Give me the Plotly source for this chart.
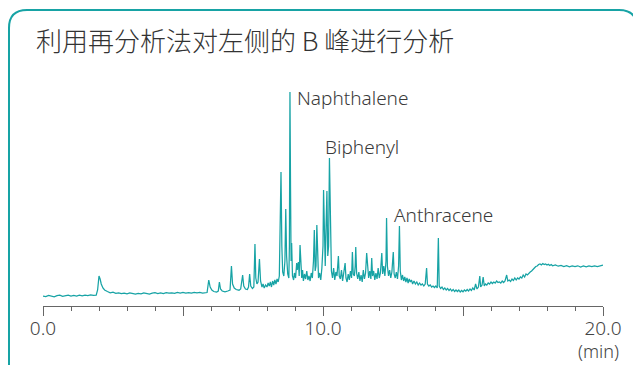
import plotly.graph_objects as go

# ---- data ----
time_min = [
    0.0, 0.1, 0.2, 0.3, 0.4, 0.5, 0.6, 0.7, 0.8, 0.9, 1.0, 1.1, 1.2, 1.3, 1.4, 1.5, 1.6, 1.7, 1.8,
    1.9, 1.95, 2.0, 2.04, 2.08, 2.14, 2.2, 2.3, 2.4, 2.5, 2.6,
    2.7, 2.8, 2.9, 3.0, 3.1, 3.2, 3.3, 3.4, 3.5, 3.6, 3.7, 3.8, 3.9, 4.0, 4.1, 4.2, 4.3, 4.4, 4.5,
    4.6, 4.7, 4.8, 4.9, 5.0, 5.1, 5.2, 5.3, 5.4, 5.5, 5.6, 5.7, 5.8,
    5.86, 5.92, 5.97, 6.03, 6.1, 6.2, 6.26, 6.3, 6.34, 6.4, 6.5, 6.6, 6.68, 6.73, 6.77, 6.83, 6.9,
    7.0, 7.06, 7.13, 7.17, 7.23, 7.3, 7.34, 7.38, 7.42, 7.48, 7.53, 7.57, 7.6, 7.64, 7.68, 7.73,
    7.77, 7.82, 7.86, 7.9, 7.95, 8.0, 8.04, 8.08, 8.12, 8.16, 8.2, 8.24, 8.28, 8.32, 8.36, 8.4,
    8.44, 8.47, 8.5, 8.53, 8.56, 8.6, 8.64, 8.67, 8.7, 8.74, 8.78, 8.8, 8.82, 8.84, 8.86, 8.88,
    8.91, 8.95, 8.98, 9.02, 9.06, 9.08, 9.12, 9.15, 9.18, 9.21, 9.24, 9.27, 9.3, 9.34, 9.38, 9.42,
    9.46, 9.5, 9.54, 9.58, 9.62, 9.66, 9.69, 9.72, 9.75, 9.78, 9.81, 9.84, 9.88, 9.92, 9.96, 10.0,
    10.02, 10.05, 10.08, 10.11, 10.14, 10.17, 10.2, 10.23, 10.26, 10.3, 10.34, 10.38, 10.42, 10.46,
    10.5, 10.55, 10.58, 10.62, 10.66, 10.7, 10.74, 10.79, 10.82, 10.86, 10.9, 10.94, 10.98, 11.02,
    11.05, 11.08, 11.12, 11.15, 11.17, 11.2, 11.24, 11.28, 11.32, 11.36, 11.4, 11.44, 11.48, 11.52,
    11.56, 11.6, 11.63, 11.67, 11.71, 11.74, 11.77, 11.81, 11.85, 11.89, 11.93, 11.97, 12.01, 12.05,
    12.1, 12.13, 12.17, 12.21, 12.25, 12.27, 12.3, 12.34, 12.38, 12.42, 12.46, 12.51, 12.54, 12.58,
    12.62, 12.66, 12.7, 12.73, 12.76, 12.8, 12.84, 12.88, 12.92, 12.96, 13.0, 13.04, 13.08, 13.12,
    13.16, 13.2, 13.25, 13.3, 13.35, 13.4, 13.45, 13.5, 13.55, 13.6, 13.65, 13.7, 13.73, 13.78,
    13.83, 13.88, 13.93, 13.98, 14.03, 14.08, 14.12, 14.15, 14.2, 14.25, 14.3, 14.35, 14.4, 14.45,
    14.5, 14.55, 14.6, 14.65, 14.7, 14.75, 14.8, 14.85, 14.9, 14.95, 15.0, 15.05, 15.1, 15.15, 15.2,
    15.25, 15.3, 15.35, 15.4, 15.45, 15.5, 15.55, 15.6, 15.63, 15.68, 15.72, 15.76, 15.8, 15.85,
    15.9, 15.95, 16.0, 16.05, 16.1, 16.15, 16.2, 16.25, 16.3, 16.35, 16.4, 16.45, 16.5, 16.56, 16.6,
    16.65, 16.7, 16.75, 16.8, 16.85, 16.9, 16.95, 17.0, 17.05, 17.1, 17.15, 17.2, 17.25, 17.3, 17.35,
    17.4, 17.45, 17.5, 17.55, 17.6, 17.65, 17.7, 17.75, 17.8, 17.85, 17.9, 17.95, 18.0, 18.05, 18.1,
    18.15, 18.2, 18.3, 18.4, 18.5, 18.6, 18.7, 18.8, 18.9, 19.0, 19.1, 19.2, 19.3, 19.4, 19.5, 19.6,
    19.7, 19.8, 19.9, 20.0,
]
signal = [
    10, 9.4, 10.6, 9.8, 9.2, 10.3, 10.8, 9.6, 10.2, 10.9, 9.9, 10.5, 10.0, 10.8, 10.2, 10.9, 10.4, 11.0, 10.6,
    10.8, 16, 30, 27, 22, 18, 16, 14.5, 13.2, 13.8, 12.6,
    13.2, 12.4, 12.9, 12.2, 13.0, 12.5, 11.9, 12.6, 12.2, 13.1, 12.4, 12.0, 12.8, 13.3, 12.5, 13.0, 12.3, 13.4, 12.8,
    13.2, 12.6, 13.5, 12.9, 13.6, 13.0, 13.4, 12.8, 13.7, 13.1, 13.6, 13.0, 13.8,
    13.5, 26, 19, 16, 14.5, 14, 15, 24, 17, 15, 14.2, 15, 16, 40, 22, 18, 16.5,
    15.8, 17, 31, 20, 17, 16.5, 19, 32, 20, 17.5, 19, 62, 28, 22, 24, 47,
    25, 19, 22, 18, 21, 19, 23, 20, 24, 19, 25, 21, 26, 22, 27, 24,
    30, 80, 134, 60, 34, 30, 45, 97, 50, 32, 28, 60, 214, 120, 45, 63,
    30, 26, 33, 28, 43, 36, 44, 30, 61, 34, 28, 36, 25, 32, 27, 35,
    26, 30, 25, 33, 28, 45, 76, 35, 40, 81, 38, 28, 33, 26, 38, 60,
    116, 70, 40, 80, 115, 50, 60, 148, 70, 35, 28, 38, 26, 34,
    30, 50, 30, 27, 36, 25, 33, 43, 28, 24, 32, 26, 35, 28,
    54, 32, 30, 40, 59, 33, 27, 34, 25, 31, 24, 36, 27, 33,
    53, 40, 28, 35, 27, 48, 30, 35, 26, 33, 27, 38, 28, 33,
    53, 32, 40, 30, 45, 88, 40, 30, 36, 28, 34, 54, 32, 28,
    34, 27, 40, 80, 35, 26, 31, 25, 29, 24, 28, 23, 27, 24,
    26, 22, 25, 22, 24, 21, 23, 21, 22, 20, 22, 38, 22, 20,
    21, 19, 20, 18.5, 20, 18, 68, 20, 17.5, 19, 16.5, 18, 16, 17.5,
    15.5, 17, 15, 16.5, 14.5, 16, 14.5, 16, 14, 15.5, 14.2, 16, 14.8, 16.5, 15,
    17, 15.5, 18, 16, 22, 17, 19, 30, 19, 21, 29, 20, 22, 21,
    23, 22, 24, 22.5, 24, 23, 25, 23.5, 24, 23, 25, 23.5, 25, 31, 25,
    26, 24.5, 27, 25.5, 28, 26, 28, 27, 29, 28, 31, 29, 32, 31, 33,
    34, 35, 37, 38, 39.5, 40, 41.5, 42, 41, 42.5, 41.5, 42, 41, 41.8, 40.5,
    41.5, 40.2, 41, 39.8, 40.6, 39.5, 40.3, 39.2, 40.1, 39.3, 40.2, 39, 40, 39.2, 40.1, 39.4,
    40.2, 39.5, 40.3, 41,
]

peak_names = ["Naphthalene", "Biphenyl", "Anthracene"]
label_time = [9.0, 10.0, 12.46]
label_signal = [208, 159, 91]

tick_values = [0, 5, 10, 15, 20]
tick_text = ["0.0", "", "10.0", "", "20.0"]
title_text = "利用再分析法对左侧的 B 峰进行分析"
unit_text = "(min)"

TEAL = "#17a3a5"
W, H = 633, 365
ML, MR, MT, MB = 43, 30, 86, 59
PW, PH = W - ML - MR, H - MT - MB


def px_to_paper(px, py):
    return (px - ML) / PW, (H - MB - py) / PH


fig = go.Figure()
fig.add_trace(go.Scatter(
    x=time_min, y=signal, mode="lines",
    line=dict(color=TEAL, width=1.25),
    hoverinfo="skip", showlegend=False,
))

for name, tx, sy in zip(peak_names, label_time, label_signal):
    fig.add_annotation(
        x=tx, y=sy, xref="x", yref="y", text=name, showarrow=False,
        xanchor="left", yanchor="middle",
        font=dict(family="Noto Sans", size=19, color="#3a3a3a", weight=300),
    )

ux, uy = px_to_paper(621, 351)
fig.add_annotation(
    x=ux, y=uy, xref="paper", yref="paper", text=unit_text, showarrow=False,
    xanchor="right", yanchor="middle",
    font=dict(family="Noto Sans", size=18, color="#444444", weight=300),
)

# rounded frame
L, T, R, B, r = 9, 10, 637, 385, 18
x0, y0 = px_to_paper(L, B)
x1, y1 = px_to_paper(L, T + r)
cx, cy = px_to_paper(L, T)
x2, y2 = px_to_paper(L + r, T)
x3, y3 = px_to_paper(R - r, T)
cx2, cy2 = px_to_paper(R, T)
x4, y4 = px_to_paper(R, T + r)
x5, y5 = px_to_paper(R, B)
path = (f"M {x0},{y0} L {x1},{y1} Q {cx},{cy} {x2},{y2} L {x3},{y3} "
        f"Q {cx2},{cy2} {x4},{y4} L {x5},{y5}")
fig.add_shape(type="path", path=path, xref="paper", yref="paper",
              line=dict(color=TEAL, width=2))

fig.update_layout(
    width=W, height=H,
    margin=dict(l=ML, r=MR, t=MT, b=MB),
    paper_bgcolor="white", plot_bgcolor="white",
    title=dict(
        text=title_text, x=36 / W, xanchor="left", xref="container",
        y=1 - 42 / H, yanchor="middle", yref="container",
        font=dict(family="Noto Sans CJK SC", size=26, color="#333333", weight=300),
    ),
    xaxis=dict(
        range=[0, 20], showgrid=False, zeroline=False,
        showline=True, linecolor="#666666", linewidth=1.2,
        ticks="outside", ticklen=9, tickwidth=1.2, tickcolor="#666666",
        tickvals=tick_values, ticktext=tick_text, ticklabelstandoff=-4,
        tickfont=dict(family="Noto Sans", size=19, color="#444444", weight=300),
        minor=dict(dtick=1, tick0=0, ticks="outside", ticklen=4,
                   tickwidth=1.2, tickcolor="#666666", showgrid=False),
    ),
    yaxis=dict(range=[0, 220], visible=False, showgrid=False, zeroline=False),
)

fig.write_html("out.html")
